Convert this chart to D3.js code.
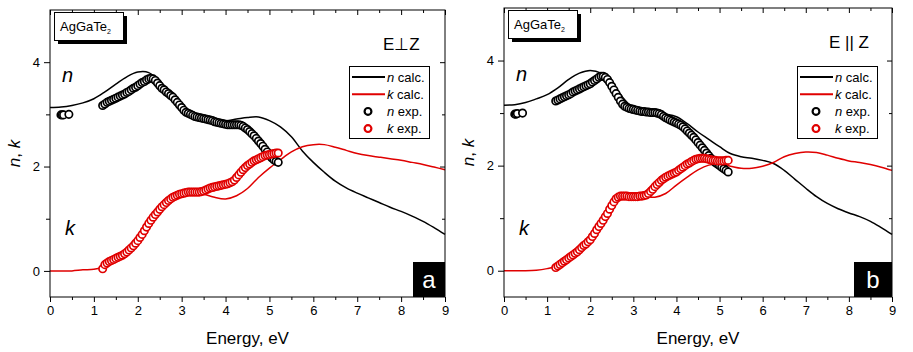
<!DOCTYPE html>
<html>
<head>
<meta charset="utf-8">
<script src="https://cdn.jsdelivr.net/npm/d3@7"></script>
<style>
  body { margin: 0; background: #fff; }
  text { font-family: Arial, "Liberation Sans", sans-serif; }
</style>
</head>
<body>
<script>
// energy grid for the calculated curves, eV
let calcE = [0,0.25,0.5,0.75,1,1.25,1.5,1.75,2,2.25,2.5,2.75,3,3.25,3.5,3.75,4,4.25,4.5,4.75,5,5.25,5.5,5.75,6,6.25,6.5,6.75,7,7.25,7.5,7.75,8,8.25,8.5,8.75,9]

// panel a, E perp Z
let nCalcA = [3.13,3.14,3.17,3.22,3.30,3.43,3.58,3.72,3.81,3.80,3.62,3.40,3.17,3.03,2.97,2.92,2.88,2.91,2.94,2.95,2.88,2.76,2.57,2.30,2.08,1.89,1.72,1.59,1.49,1.40,1.31,1.22,1.14,1.05,0.95,0.83,0.70]
let kCalcA = [0,0,0,0.02,0.03,0.08,0.18,0.32,0.56,0.88,1.16,1.37,1.47,1.50,1.47,1.41,1.38,1.44,1.58,1.79,1.97,2.13,2.28,2.38,2.42,2.42,2.37,2.31,2.25,2.21,2.18,2.15,2.12,2.08,2.04,1.99,1.94]

// panel b, E || Z
let nCalcB = [3.15,3.16,3.20,3.27,3.35,3.48,3.64,3.76,3.81,3.76,3.58,3.30,3.10,3.03,3.01,2.98,2.93,2.80,2.64,2.50,2.36,2.23,2.17,2.14,2.10,2.04,1.91,1.74,1.57,1.41,1.28,1.18,1.10,1.03,0.94,0.82,0.69]
let kCalcB = [0,0,0,0.01,0.04,0.09,0.21,0.36,0.57,0.88,1.22,1.39,1.42,1.42,1.40,1.47,1.63,1.78,1.92,2.01,2.03,1.99,1.95,1.95,1.99,2.06,2.17,2.23,2.26,2.25,2.20,2.14,2.09,2.06,2.02,1.97,1.91]

// experimental points
let lowE = [0.25,0.28,0.31,0.43]
let nLowA = [2.99,2.99,2.99,3.00]
let nLowB = [2.98,2.98,2.99,3.00]

let expE = [1.20,1.25,1.30,1.35,1.40,1.45,1.50,1.55,1.60,1.65,1.70,1.75,1.80,1.85,1.90,1.95,2.00,2.05,2.10,2.15,2.20,2.25,2.30,2.35,2.40,2.45,2.50,2.55,2.60,2.65,2.70,2.75,2.80,2.85,2.90,2.95,3.00,3.05,3.10,3.15,3.20,3.25,3.30,3.35,3.40,3.45,3.50,3.55,3.60,3.65,3.70,3.75,3.80,3.85,3.90,3.95,4.00,4.05,4.10,4.15,4.20,4.25,4.30,4.35,4.40,4.45,4.50,4.55,4.60,4.65,4.70,4.75,4.80,4.85,4.90,4.95,5.00,5.05,5.10,5.15,5.20]

let nExpA = [3.17,3.20,3.23,3.25,3.27,3.29,3.31,3.33,3.35,3.37,3.39,3.42,3.44,3.47,3.50,3.52,3.55,3.58,3.61,3.63,3.66,3.68,3.69,3.68,3.65,3.60,3.55,3.50,3.47,3.43,3.40,3.36,3.33,3.28,3.23,3.18,3.13,3.08,3.04,3.02,3.00,2.98,2.96,2.95,2.94,2.93,2.92,2.91,2.90,2.89,2.88,2.86,2.85,2.84,2.83,2.82,2.81,2.80,2.80,2.80,2.80,2.80,2.80,2.79,2.77,2.74,2.71,2.67,2.63,2.59,2.54,2.49,2.44,2.39,2.33,2.28,2.22,2.17,2.13,2.10,2.08]
let kExpA = [0.04,0.12,0.15,0.18,0.20,0.22,0.24,0.26,0.28,0.30,0.33,0.36,0.40,0.44,0.48,0.53,0.58,0.64,0.70,0.77,0.84,0.91,0.97,1.03,1.08,1.13,1.18,1.23,1.27,1.31,1.35,1.38,1.41,1.43,1.45,1.47,1.48,1.49,1.50,1.51,1.51,1.51,1.51,1.51,1.51,1.52,1.53,1.55,1.57,1.59,1.60,1.61,1.62,1.63,1.64,1.65,1.66,1.67,1.69,1.71,1.74,1.79,1.84,1.89,1.94,1.98,2.02,2.05,2.08,2.11,2.13,2.15,2.17,2.19,2.21,2.22,2.23,2.24,2.25,2.26,2.26]
let nExpB = [3.23,3.25,3.27,3.29,3.31,3.33,3.35,3.37,3.40,3.42,3.44,3.46,3.48,3.50,3.52,3.54,3.56,3.59,3.62,3.65,3.68,3.70,3.70,3.68,3.64,3.58,3.51,3.44,3.37,3.30,3.23,3.17,3.13,3.11,3.09,3.08,3.07,3.06,3.05,3.04,3.03,3.03,3.02,3.02,3.01,3.01,3.01,3.00,2.99,2.97,2.94,2.91,2.89,2.87,2.85,2.83,2.81,2.79,2.77,2.74,2.70,2.66,2.62,2.58,2.54,2.49,2.44,2.39,2.34,2.29,2.24,2.19,2.14,2.10,2.06,2.03,2.00,1.97,1.94,1.91,1.88]
let kExpB = [0.06,0.09,0.12,0.15,0.18,0.21,0.24,0.27,0.30,0.33,0.36,0.40,0.44,0.48,0.51,0.55,0.59,0.65,0.71,0.78,0.84,0.90,0.96,1.03,1.09,1.17,1.24,1.31,1.37,1.40,1.42,1.42,1.42,1.42,1.41,1.41,1.41,1.41,1.41,1.42,1.42,1.43,1.44,1.47,1.51,1.55,1.60,1.64,1.68,1.72,1.75,1.78,1.80,1.82,1.84,1.86,1.88,1.91,1.94,1.97,2.00,2.03,2.05,2.08,2.10,2.12,2.13,2.14,2.14,2.14,2.13,2.12,2.11,2.10,2.10,2.09,2.09,2.09,2.09,2.10,2.10]

let xTicks = [0,1,2,3,4,5,6,7,8,9]
let xMinor = [0.5,1.5,2.5,3.5,4.5,5.5,6.5,7.5,8.5]
let yTicks = [0,2,4]
let yMinor = [1,3]

let red = '#e00000'

let width = 913, height = 352
let svg = d3.select('body').append('svg').attr('width', width).attr('height', height)

function zip(xs, ys) { return xs.map((x, i) => [x, ys[i]]) }

function drawPanel(p) {
  let x = d3.scaleLinear().domain([0, 9]).range([p.left, p.right])
  let y = d3.scaleLinear().domain([-0.5, 5]).range([p.bottom, p.top])
  let g = svg.append('g')

  // axes
  let bottom = g.append('g').attr('transform', 'translate(0,' + p.bottom + ')')
  bottom.call(d3.axisBottom(x).tickValues(xTicks).tickSize(5).tickPadding(4).tickFormat(d3.format('d')))
  bottom.append('g').call(d3.axisBottom(x).tickValues(xMinor).tickSize(3).tickFormat(''))
  let left = g.append('g').attr('transform', 'translate(' + p.left + ',0)')
  left.call(d3.axisLeft(y).tickValues(yTicks).tickSize(6).tickPadding(4).tickFormat(d3.format('d')))
  left.append('g').call(d3.axisLeft(y).tickValues(yMinor).tickSize(4).tickFormat(''))
  let top = g.append('g').attr('transform', 'translate(0,' + p.top + ')')
  top.call(d3.axisBottom(x).tickValues(xTicks).tickSize(5).tickFormat(''))
  top.append('g').call(d3.axisBottom(x).tickValues(xMinor).tickSize(3).tickFormat(''))
  let right = g.append('g').attr('transform', 'translate(' + p.right + ',0)')
  right.call(d3.axisLeft(y).tickValues(yTicks).tickSize(5).tickFormat(''))
  right.append('g').call(d3.axisLeft(y).tickValues(yMinor).tickSize(3).tickFormat(''))
  g.selectAll('.domain').remove()
  g.selectAll('.tick text').attr('font-size', 13).attr('fill', '#000')
  g.selectAll('.tick line').attr('stroke', '#000')

  let plot = g.append('g')
  let line = d3.line().x(d => x(d[0])).y(d => y(d[1])).curve(d3.curveCatmullRom)

  plot.append('path').datum(zip(calcE, p.nCalc)).attr('d', line)
    .attr('fill', 'none').attr('stroke', '#000').attr('stroke-width', 1.5)
  plot.append('path').datum(zip(calcE, p.kCalc)).attr('d', line)
    .attr('fill', 'none').attr('stroke', red).attr('stroke-width', 1.5)

  let dots = (data, color) => plot.append('g').selectAll('circle').data(data).enter().append('circle')
    .attr('cx', d => x(d[0])).attr('cy', d => y(d[1])).attr('r', 3.7)
    .attr('fill', '#fff').attr('stroke', color).attr('stroke-width', 1.7)
  dots(zip(lowE, p.nLow), '#000')
  dots(zip(expE, p.nExp), '#000')
  dots(zip(expE, p.kExp), red)

  // frame
  g.append('rect').attr('x', p.left).attr('y', p.top)
    .attr('width', p.right - p.left).attr('height', p.bottom - p.top)
    .attr('fill', 'none').attr('stroke', '#000').attr('stroke-width', 1)

  // compound label with shadow
  g.append('rect').attr('x', p.left + 8).attr('y', p.top + 6).attr('width', 69).attr('height', 28).attr('fill', '#000')
  g.append('rect').attr('x', p.left + 4.5).attr('y', p.top + 2.5).attr('width', 69).attr('height', 28)
    .attr('fill', '#fff').attr('stroke', '#000')
  let comp = g.append('text').attr('x', p.left + 10).attr('y', p.top + 21).attr('font-size', 13)
  comp.append('tspan').text('AgGaTe')
  comp.append('tspan').attr('font-size', 7).attr('dy', 3).text('2')

  g.append('text').attr('x', p.polX).attr('y', p.top + 40).attr('font-size', 17).text(p.pol)

  g.append('text').attr('x', p.left + 12).attr('y', y(3.62)).attr('font-size', 20)
    .attr('font-style', 'italic').text('n')
  g.append('text').attr('x', p.left + 15).attr('y', y(0.68)).attr('font-size', 20)
    .attr('font-style', 'italic').text('k')

  // legend
  let lg = g.append('g').attr('transform', 'translate(' + p.legX + ',' + p.legY + ')')
  lg.append('rect').attr('x', 0.5).attr('y', 0.5).attr('width', 80).attr('height', 72)
    .attr('fill', '#fff').attr('stroke', '#000')
  let items = [
    {sym: 'line', c: '#000', v: 'n', t: ' calc.'},
    {sym: 'line', c: red, v: 'k', t: ' calc.'},
    {sym: 'dot', c: '#000', v: 'n', t: ' exp.'},
    {sym: 'dot', c: red, v: 'k', t: ' exp.'}
  ]
  items.forEach((it, i) => {
    let cy = 11 + i * 17.2
    if (it.sym == 'line') {
      lg.append('line').attr('x1', 3).attr('x2', 36).attr('y1', cy).attr('y2', cy)
        .attr('stroke', it.c).attr('stroke-width', 2)
    } else {
      lg.append('circle').attr('cx', 19).attr('cy', cy).attr('r', 3.4)
        .attr('fill', '#fff').attr('stroke', it.c).attr('stroke-width', 2.2)
    }
    let t = lg.append('text').attr('x', 38).attr('y', cy + 4.5).attr('font-size', 13)
    t.append('tspan').attr('font-style', 'italic').text(it.v)
    t.append('tspan').text(it.t)
  })

  // panel letter
  g.append('rect').attr('x', p.right - p.boxW).attr('y', p.bottom - 35).attr('width', p.boxW).attr('height', 35).attr('fill', '#000')
  g.append('text').attr('x', p.right - p.boxW / 2).attr('y', p.bottom - 9).attr('text-anchor', 'middle')
    .attr('font-size', 24).attr('fill', '#fff').text(p.letter)

  // axis titles
  g.append('text').attr('x', (p.left + p.right) / 2).attr('y', 344).attr('text-anchor', 'middle')
    .attr('font-size', 17).text('Energy, eV')
  let yl = g.append('text').attr('transform', 'translate(' + (p.left - 30) + ',' + ((p.top + p.bottom) / 2) + ') rotate(-90)')
    .attr('text-anchor', 'middle').attr('font-size', 17)
  yl.append('tspan').attr('font-style', 'italic').text('n')
  yl.append('tspan').text(', ')
  yl.append('tspan').attr('font-style', 'italic').text('k')
}

drawPanel({left: 50, right: 445, top: 10, bottom: 297, nCalc: nCalcA, kCalc: kCalcA, nLow: nLowA, nExp: nExpA, kExp: kExpA,
  pol: 'E\u22A5Z', polX: 383, legX: 349, legY: 66, letter: 'a', boxW: 32})
drawPanel({left: 504, right: 892, top: 8, bottom: 297, nCalc: nCalcB, kCalc: kCalcB, nLow: nLowB, nExp: nExpB, kExp: kExpB,
  pol: 'E || Z', polX: 829, legX: 797, legY: 66, letter: 'b', boxW: 38})
</script>
</body>
</html>
